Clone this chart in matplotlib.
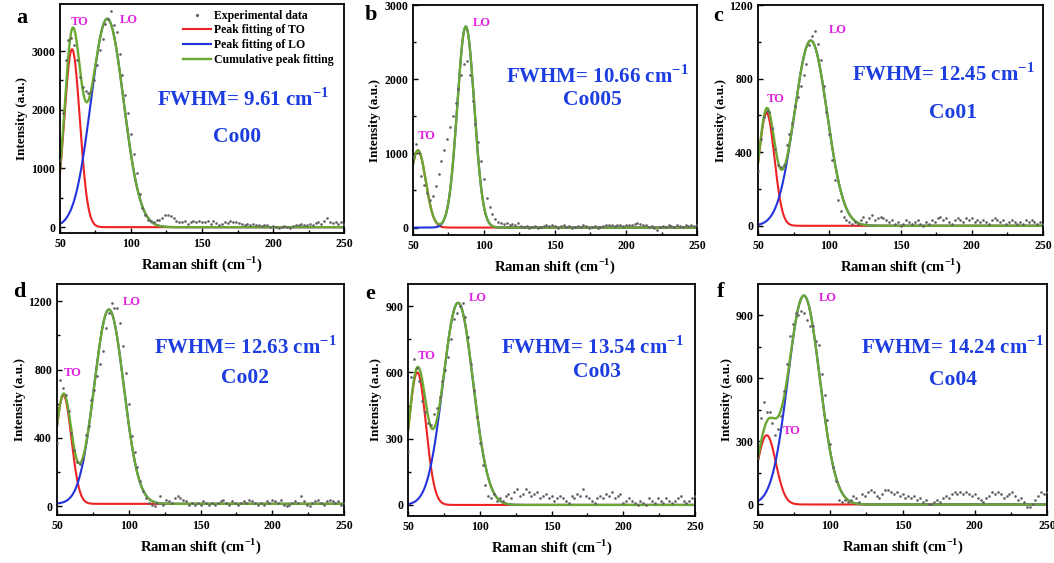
import numpy as np
import matplotlib
matplotlib.use("Agg")
import matplotlib.pyplot as plt

plt.rcParams['font.family'] = ['Liberation Serif', 'DejaVu Serif']
plt.rcParams['font.weight'] = 'bold'
plt.rcParams['axes.labelweight'] = 'bold'
plt.rcParams['mathtext.fontset'] = 'custom'
plt.rcParams['mathtext.rm'] = 'Liberation Serif:bold'
plt.rcParams['mathtext.bf'] = 'Liberation Serif:bold'

# Raman shift of the experimental points (cm-1)
raman = np.arange(50, 251, 2)

# experimental intensities
exp_co00 = [1150, 1950, 2840, 3180, 3220, 3110, 2850, 2550, 2380, 2320,
            2280, 2300, 2500, 2760, 3010, 3200, 3460, 3550, 3690, 3440,
            3320, 2950, 2600, 2250, 1950, 1590, 1250, 920, 560, 320,
            200, 130, 110, 80, 120, 130, 160, 200, 210, 190,
            150, 110, 90, 80, 100, 60, 90, 110, 80, 100,
            90, 80, 100, 60, 110, 70, 40, 60, 90, 70,
            100, 80, 90, 70, 50, 30, 60, 40, 50, 30,
            40, 20, 40, 30, 10, 20, 0, -10, 10, 20,
            0, -10, 20, 40, 30, 50, 40, 30, 60, 40,
            70, 80, 60, 100, 150, 90, 70, 80, 60, 90,
            60]
exp_co005 = [950, 1130, 1000, 700, 580, 470, 370, 420, 560, 720,
             900, 1050, 1200, 1350, 1500, 1680, 1870, 2060, 2200, 2250,
             2050, 1700, 1390, 1160, 900, 650, 400, 280, 180, 120,
             80, 60, 50, 60, 40, 50, 30, 60, 20, 10,
             20, 0, 10, 20, 0, 10, 20, 40, 20, 30,
             20, 0, 20, 30, 10, 20, 0, 10, 20, 10,
             30, 20, 0, 10, 20, 0, 10, 20, 30, 40,
             30, 20, 40, 30, 20, 40, 30, 40, 50, 60,
             50, 40, 30, 10, 20, -10, -30, 10, 20, 10,
             30, 20, 10, 30, 20, 10, 30, 20, 30, 20,
             30]
exp_co01 = [300, 470, 590, 625, 620, 530, 420, 330, 320, 330,
            440, 500, 560, 650, 700, 760, 820, 880, 980, 1030,
            1060, 990, 900, 760, 620, 500, 360, 250, 140, 80,
            50, 30, 20, 10, 20, 10, 30, 50, 20, 40,
            60, 30, 40, 50, 40, 30, 20, 30, 10, 20,
            0, 10, 30, 20, 10, 20, 30, 10, 0, 20,
            10, 30, 20, 40, 50, 30, 40, 20, 10, 30,
            40, 30, 20, 40, 30, 40, 20, 30, 20, 30,
            20, 10, 30, 40, 30, 20, 30, 10, 20, 30,
            20, 10, 20, 10, 30, 20, 30, 20, 10, 20,
            10]
exp_co02 = [370, 740, 690, 650, 560, 430, 330, 260, 250, 280,
            420, 470, 620, 680, 760, 830, 910, 1040, 1130, 1190,
            1160, 1160, 1070, 940, 780, 600, 410, 320, 230, 150,
            90, 50, 20, 10, 0, 20, 60, 10, 40, 30,
            20, 50, 60, 50, 40, 30, 10, 20, 10, 20,
            10, 30, 20, 10, 20, 10, 20, 30, 40, 20,
            10, 30, 20, 10, 20, 30, 20, 40, 30, 20,
            10, 20, 10, 30, 20, 40, 30, 20, 40, 10,
            0, 10, 20, 30, 20, 60, 30, 10, 0, 20,
            30, 40, 20, 10, 30, 40, 30, 20, 30, 10,
            20]
exp_co03 = [240, 580, 660, 620, 560, 470, 420, 370, 360, 410,
            440, 490, 560, 610, 670, 750, 840, 870, 900, 915,
            850, 760, 640, 520, 400, 280, 180, 90, 40, 30,
            50, 20, 30, 20, 40, 50, 30, 60, 70, 40,
            50, 70, 60, 40, 50, 60, 30, 40, 50, 30,
            40, 20, 30, 40, 30, 20, 10, 40, 30, 50,
            40, 70, 40, 30, 20, 10, 30, 40, 30, 50,
            40, 60, 30, 40, 50, 10, 20, 30, 20, 10,
            0, 20, 10, 0, 30, 20, 10, 30, 20, 10,
            30, 20, 10, 20, 30, 40, 20, 10, 20, 30,
            40]
exp_co04 = [220, 410, 490, 440, 440, 390, 330, 360, 420, 540,
            670, 800, 860, 910, 900, 920, 910, 880, 850, 850,
            780, 760, 620, 520, 400, 290, 180, 110, 20, 10,
            20, 10, 20, 40, 30, 10, 50, 40, 60, 70,
            60, 40, 30, 50, 70, 70, 60, 50, 60, 40,
            50, 30, 40, 30, 40, 20, 30, 10, 20, 0,
            0, 10, 20, 10, 30, 40, 30, 50, 60, 50,
            60, 50, 60, 50, 40, 50, 30, 20, 10, 30,
            40, 60, 50, 60, 50, 30, 40, 50, 60, 40,
            20, 30, 10, -10, -10, 0, 20, 40, 60, 50,
            60]

samples = ['Co00', 'Co005', 'Co01', 'Co02', 'Co03', 'Co04']
letters = ['a', 'b', 'c', 'd', 'e', 'f']
fwhm = ['9.61', '10.66', '12.45', '12.63', '13.54', '14.24']
experimental = [exp_co00, exp_co005, exp_co01, exp_co02, exp_co03, exp_co04]

# fitted peaks: centre, height, width (sigma)
to_center = [58.5, 53.5, 56.0, 54.5, 56.5, 56.0]
to_height = [3030, 1040, 613, 635, 600, 330]
to_sigma = [5.5, 5.5, 5.5, 5.5, 6.0, 6.3]
lo_center = [83.3, 87.2, 87.0, 86.2, 84.9, 81.7]
lo_height = [3550, 2710, 1007, 1136, 915, 995]
lo_sigma = [11.5, 6.0, 11.5, 10.3, 10.5, 11.0]
baseline = [0, 0, 0, 15, 0, 0]

y_max = [3800, 3000, 1200, 1300, 1000, 1050]
y_min = [-100, -100, -50, -50, -50, -50]
y_step = [1000, 1000, 400, 400, 300, 300]

# positions of TO / LO labels (data coords)
to_label = [(63.6, 3494), (59.9, 1231), (62.4, 691), (60.7, 777), (63.3, 676), (73.1, 351)]
lo_label = [(98.8, 3534), (98.2, 2756), (105.7, 1064), (101.8, 1196), (98.8, 938), (98.1, 983)]
# positions of FWHM and sample name (axes fraction)
fwhm_pos = [(0.644, 0.581), (0.648, 0.687), (0.649, 0.696), (0.655, 0.727), (0.641, 0.727), (0.671, 0.723)]
name_pos = [(0.623, 0.419), (0.630, 0.587), (0.684, 0.530), (0.655, 0.593), (0.658, 0.619), (0.675, 0.584)]

boxes = [[0.0569, 0.5861, 0.2695, 0.4067], [0.3918, 0.5826, 0.2695, 0.4085],
         [0.7192, 0.5826, 0.2704, 0.4085], [0.0541, 0.0853, 0.2723, 0.4103],
         [0.3871, 0.0835, 0.2723, 0.4121], [0.7192, 0.0853, 0.2742, 0.4103]]
letter_pos = [(22, 18), (371, 15), (718, 16), (19, 292), (370, 294), (721, 292)]

red = '#ee2222'
blue = '#2233dd'
green = '#6aa832'
text_blue = '#1c3de0'
magenta = '#e020e0'

x_fit = np.linspace(50, 250, 801)

fig = plt.figure(figsize=(10.54, 5.63), dpi=100)

for i in range(6):
    ax = fig.add_axes(boxes[i])
    to_fit = baseline[i] + to_height[i] * np.exp(-(x_fit - to_center[i]) ** 2 / (2 * to_sigma[i] ** 2))
    lo_fit = baseline[i] + lo_height[i] * np.exp(-(x_fit - lo_center[i]) ** 2 / (2 * lo_sigma[i] ** 2))
    total = to_fit + lo_fit - baseline[i]

    ax.plot(raman, experimental[i], 'o', color='#606060', markersize=1.9, mew=0,
            label='Experimental data', zorder=4)
    ax.plot(x_fit, to_fit, color=red, lw=1.5, label='Peak fitting of TO')
    ax.plot(x_fit, lo_fit, color=blue, lw=1.5, label='Peak fitting of LO')
    ax.plot(x_fit, total, color=green, lw=1.7, label='Cumulative peak fitting')

    ax.set_xlim(50, 250)
    ax.set_ylim(y_min[i], y_max[i])
    ax.set_xticks([50, 100, 150, 200, 250])
    ax.set_xticks(np.arange(75, 250, 50), minor=True)
    yt = np.arange(0, y_max[i] + 1, y_step[i])
    ax.set_yticks(yt)
    ax.set_yticks(yt[:-1] + y_step[i] / 2, minor=True)
    ax.tick_params(which='both', direction='in', top=False, right=False, labelsize=8.5, width=1)
    ax.tick_params(which='major', length=3.5)
    ax.tick_params(which='minor', length=2)
    for s in ax.spines.values():
        s.set_linewidth(1.3)

    ax.set_xlabel(r'Raman shift (cm$^{\mathbf{-1}}$)', fontsize=10.5, labelpad=3)
    ax.set_ylabel('Intensity (a.u.)', fontsize=9.5, labelpad=2)

    ax.text(*to_label[i], 'TO', color=magenta, fontsize=9, ha='center', va='center')
    ax.text(*lo_label[i], 'LO', color=magenta, fontsize=9, ha='center', va='center')
    ax.text(*fwhm_pos[i], 'FWHM= ' + fwhm[i] + r' cm$^{\mathbf{-1}}$', color=text_blue,
            fontsize=15, ha='center', va='center', transform=ax.transAxes)
    ax.text(*name_pos[i], samples[i], color=text_blue, fontsize=15.5,
            ha='center', va='center', transform=ax.transAxes)

    fig.text(letter_pos[i][0] / 1054, 1 - letter_pos[i][1] / 563, letters[i],
             fontsize=16, ha='center', va='center')

    if i == 0:
        leg = ax.legend(loc='upper right', bbox_to_anchor=(0.97, 0.985), frameon=False,
                        fontsize=8.5, handlelength=2.4, handletextpad=0.2,
                        labelspacing=0.22, borderaxespad=0.0, borderpad=0.2,
                        numpoints=1, markerscale=1.2)

fig.savefig('out.png', dpi=100)
